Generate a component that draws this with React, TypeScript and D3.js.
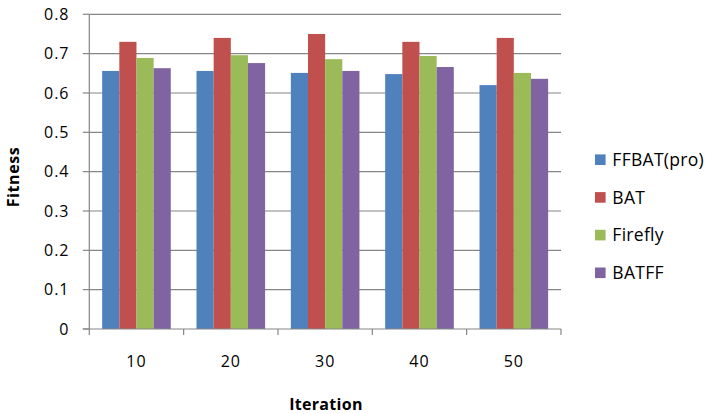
import React from "react";
import * as d3 from "d3";

const categories = ["10", "20", "30", "40", "50"];
const seriesNames = ["FFBAT(pro)", "BAT", "Firefly", "BATFF"];
const ffbatPro = [0.656, 0.656, 0.651, 0.648, 0.62];
const bat = [0.73, 0.74, 0.75, 0.73, 0.74];
const firefly = [0.689, 0.696, 0.686, 0.694, 0.651];
const batff = [0.663, 0.676, 0.656, 0.666, 0.636];
const yTicks = [0, 0.1, 0.2, 0.3, 0.4, 0.5, 0.6, 0.7, 0.8];
const colors = ["#4F81BD", "#C0504D", "#9BBB59", "#8064A2"];

const W = 710;
const H = 414;
const left = 89.3;
const right = 561;
const top = 14.3;
const bottom = 329;
const grid = "#868686";
const font = "'Open Sans', sans-serif";

export default function App() {
  const values = [ffbatPro, bat, firefly, batff];
  const x0 = d3.scaleBand<string>().domain(categories).range([left, right]).paddingInner(0).paddingOuter(0);
  const x1 = d3
    .scaleBand<string>()
    .domain(seriesNames)
    .range([0, x0.bandwidth()])
    .paddingInner(0)
    .paddingOuter(0.75);
  const y = d3.scaleLinear().domain([0, 0.8]).range([bottom, top]);
  const boundaries = d3.range(categories.length + 1).map((i) => left + i * x0.step());

  return (
    <svg
      width={W}
      height={H}
      style={{ position: "absolute", left: 0, top: 0, background: "#fff" }}
      fontFamily={font}
    >
      <rect x={0} y={0} width={W} height={H} fill="#fff" />
      {yTicks.map((t) => (
        <g key={t}>
          {t > 0 && (
            <line x1={left} x2={right} y1={y(t)} y2={y(t)} stroke={grid} strokeWidth={1.2} />
          )}
          <line x1={left - 6.5} x2={left} y1={y(t)} y2={y(t)} stroke={grid} strokeWidth={1.2} />
          <text
            x={69.5}
            y={y(t)}
            dy="0.36em"
            textAnchor="end"
            fontSize={16}
            letterSpacing={1}
            fill="#000"
          >
            {t === 0 ? "0" : t.toFixed(1)}
          </text>
        </g>
      ))}
      {categories.map((c, i) => (
        <g key={c}>
          {seriesNames.map((s, j) => (
            <rect
              key={s}
              x={(x0(c) as number) + (x1(s) as number)}
              y={y(values[j][i])}
              width={x1.bandwidth()}
              height={bottom - y(values[j][i])}
              fill={colors[j]}
            />
          ))}
          <text
            x={(x0(c) as number) + x0.bandwidth() / 2}
            y={367}
            textAnchor="middle"
            fontSize={16}
            letterSpacing={1}
            fill="#000"
          >
            {c}
          </text>
        </g>
      ))}
      <line x1={left} x2={left} y1={top} y2={bottom} stroke={grid} strokeWidth={1.2} />
      <line x1={left - 6.5} x2={right} y1={bottom} y2={bottom} stroke={grid} strokeWidth={1.2} />
      {boundaries.map((b, i) => (
        <line key={i} x1={b} x2={b} y1={bottom} y2={bottom + 6} stroke={grid} strokeWidth={1.2} />
      ))}
      <text x={326} y={410} textAnchor="middle" fontSize={16} fontWeight="bold" letterSpacing={0.3} fill="#000">
        Iteration
      </text>
      <text
        transform={`translate(18.5,177) rotate(-90)`}
        textAnchor="middle"
        fontSize={16}
        fontWeight="bold"
        letterSpacing={0.6}
        fill="#000"
      >
        Fitness
      </text>
      {seriesNames.map((s, j) => (
        <g key={s} transform={`translate(595,${159.7 + j * 37.7})`}>
          <rect x={0} y={-5.3} width={10.6} height={10.6} fill={colors[j]} />
          <text x={17.3} y={0} dy="0.36em" fontSize={17.5} letterSpacing={0.3} fill="#000">
            {s}
          </text>
        </g>
      ))}
    </svg>
  );
}
